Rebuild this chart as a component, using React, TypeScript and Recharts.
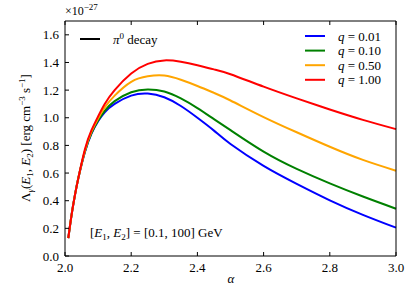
import React from 'react';
import { LineChart, Line, XAxis, YAxis } from 'recharts';

// alpha (spectral index) grid
const alpha = [2.01, 2.02, 2.03, 2.04, 2.06, 2.08, 2.1, 2.12, 2.15, 2.2, 2.25, 2.3, 2.35, 2.4, 2.45, 2.5, 2.6, 2.7, 2.8, 2.9, 3.0];

// Lambda_gamma in units of 1e-27 erg cm^-3 s^-1
const q001 = [0.13, 0.3, 0.44, 0.56, 0.75, 0.885, 0.975, 1.04, 1.1, 1.16, 1.175, 1.148, 1.085, 1.0, 0.907, 0.81, 0.652, 0.522, 0.403, 0.298, 0.205];
const q010 = [0.13, 0.3, 0.44, 0.56, 0.755, 0.89, 0.98, 1.05, 1.12, 1.185, 1.205, 1.19, 1.14, 1.07, 0.99, 0.91, 0.755, 0.63, 0.525, 0.43, 0.342];
const q050 = [0.13, 0.3, 0.44, 0.56, 0.76, 0.9, 0.995, 1.075, 1.16, 1.26, 1.3, 1.305, 1.275, 1.23, 1.18, 1.125, 1.005, 0.895, 0.79, 0.695, 0.617];
const q100 = [0.13, 0.3, 0.44, 0.56, 0.77, 0.91, 1.01, 1.1, 1.2, 1.32, 1.39, 1.415, 1.405, 1.38, 1.35, 1.315, 1.225, 1.14, 1.06, 0.985, 0.918];

const seriesNames = ['q001', 'q010', 'q050', 'q100'];
const seriesLabels = ['0.01', '0.10', '0.50', '1.00'];
const seriesColors = ['#0000ff', '#008000', '#ffa500', '#ff0000'];

const xTicks = [2.0, 2.2, 2.4, 2.6, 2.8, 3.0];
const yTicks = [0, 0.2, 0.4, 0.6, 0.8, 1.0, 1.2, 1.4, 1.6];

const data = alpha.map((a, i) => ({
  alpha: a,
  q001: q001[i],
  q010: q010[i],
  q050: q050[i],
  q100: q100[i],
}));

const font = "'Liberation Serif', 'DejaVu Serif', serif";
const tickStyle = { fontSize: 13, fontFamily: font, fill: '#000' };

const App = () => {
  return (
    <div style={{ position: 'absolute', left: 0, top: 0, width: 408, height: 285, background: '#fff', fontFamily: font }}>
      <LineChart width={408} height={285} data={data} margin={{ top: 20, right: 11, bottom: 0, left: 0 }}>
        <XAxis
          xAxisId="bottom"
          dataKey="alpha"
          type="number"
          domain={[2, 3]}
          ticks={xTicks}
          allowDecimals
          tickFormatter={(v: number) => v.toFixed(1)}
          height={29}
          tickSize={-4}
          tickMargin={11}
          tick={tickStyle}
          stroke="#000"
          axisLine={{ stroke: '#000' }}
          tickLine={{ stroke: '#000' }}
        />
        <XAxis
          xAxisId="top"
          orientation="top"
          dataKey="alpha"
          type="number"
          domain={[2, 3]}
          ticks={xTicks}
          height={1}
          tickSize={-4}
          tickFormatter={() => ''}
          stroke="#000"
          axisLine={{ stroke: '#000' }}
          tickLine={{ stroke: '#000' }}
        />
        <YAxis
          yAxisId="left"
          type="number"
          domain={[0, 1.7]}
          ticks={yTicks}
          tickFormatter={(v: number) => v.toFixed(1)}
          width={65}
          tickSize={-4}
          tickMargin={10}
          tick={tickStyle}
          stroke="#000"
          axisLine={{ stroke: '#000' }}
          tickLine={{ stroke: '#000' }}
        />
        <YAxis
          yAxisId="right"
          orientation="right"
          type="number"
          domain={[0, 1.7]}
          ticks={yTicks}
          width={1}
          tickSize={-4}
          tickFormatter={() => ''}
          stroke="#000"
          axisLine={{ stroke: '#000' }}
          tickLine={{ stroke: '#000' }}
        />
        {seriesNames.map((name, i) => (
          <Line
            key={name}
            xAxisId="bottom"
            yAxisId="left"
            type="natural"
            dataKey={name}
            stroke={seriesColors[i]}
            strokeWidth={2}
            dot={false}
            isAnimationActive={false}
          />
        ))}
      </LineChart>
      <svg
        width={408}
        height={285}
        style={{ position: 'absolute', left: 0, top: 0, pointerEvents: 'none', fontFamily: font }}
        fontSize={13}
      >
        {/* offset multiplier */}
        <text x={65} y={15} fontSize={12}>
          ×10<tspan fontSize={9} dy={-5}>−27</tspan>
        </text>
        {/* y axis title */}
        <text transform="translate(30,138) rotate(-90)" textAnchor="middle">
          Λ<tspan fontStyle="italic" fontSize={9} dy={3}>γ</tspan>
          <tspan dy={-3}>(</tspan>
          <tspan fontStyle="italic">E</tspan>
          <tspan fontSize={9} dy={3}>1</tspan>
          <tspan dy={-3}>, </tspan>
          <tspan fontStyle="italic">E</tspan>
          <tspan fontSize={9} dy={3}>2</tspan>
          <tspan dy={-3}>) [erg cm</tspan>
          <tspan fontSize={9} dy={-5}>−3</tspan>
          <tspan dy={5}> s</tspan>
          <tspan fontSize={9} dy={-5}>−1</tspan>
          <tspan dy={5}>]</tspan>
        </text>
        {/* x axis title */}
        <text x={231} y={283} textAnchor="middle" fontStyle="italic">α</text>
        {/* pi0 legend */}
        <line x1={80} x2={100} y1={39} y2={39} stroke="#000" strokeWidth={2} />
        <text x={113} y={44}>
          <tspan fontStyle="italic">π</tspan>
          <tspan fontSize={9} dy={-5}>0</tspan>
          <tspan dy={5}> decay</tspan>
        </text>
        {/* q legend */}
        {seriesLabels.map((lab, i) => (
          <g key={lab}>
            <line x1={305} x2={325} y1={36 + i * 14.6} y2={36 + i * 14.6} stroke={seriesColors[i]} strokeWidth={2} />
            <text x={338} y={40.5 + i * 14.6}>
              <tspan fontStyle="italic">q</tspan> = {lab}
            </text>
          </g>
        ))}
        {/* energy band annotation */}
        <text x={90} y={237}>
          [<tspan fontStyle="italic">E</tspan>
          <tspan fontSize={9} dy={3}>1</tspan>
          <tspan dy={-3}>, </tspan>
          <tspan fontStyle="italic">E</tspan>
          <tspan fontSize={9} dy={3}>2</tspan>
          <tspan dy={-3}>] = [0.1, 100] GeV</tspan>
        </text>
      </svg>
    </div>
  );
};

export default App;
